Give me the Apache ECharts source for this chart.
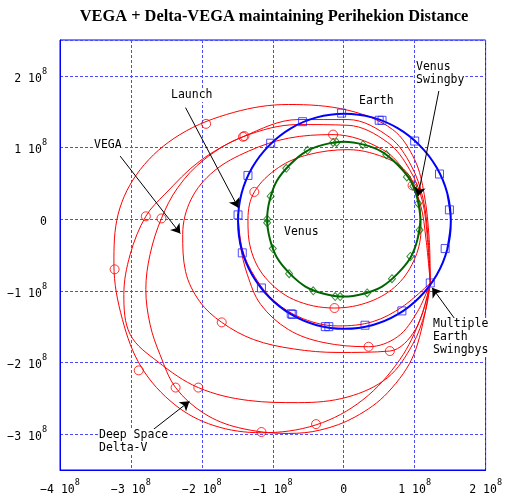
<!DOCTYPE html>
<html><head><meta charset="utf-8">
<script src="https://cdn.jsdelivr.net/npm/echarts@6/dist/echarts.min.js"></script>
<style>html,body{margin:0;padding:0;background:#fff}#c{width:505px;height:497px}</style>
</head><body><div id="c"></div>
<script>
// ---- data (units of 10^8 km) ----
const chartTitle = 'VEGA + Delta-VEGA maintaining Perihekion Distance';
const tickExponent = '8';

const earthOrbit = [[1.46,-0.42],[1.51,-0.03],[1.46,0.36],[1.31,0.72],[1.07,1.03],[0.76,1.27],[0.40,1.42],[0.01,1.47],[-0.38,1.42],[-0.74,1.27],[-1.05,1.03],[-1.29,0.72],[-1.44,0.36],[-1.49,-0.03],[-1.44,-0.42],[-1.29,-0.78],[-1.05,-1.09],[-0.74,-1.33],[-0.38,-1.48],[0.01,-1.53],[0.40,-1.48],[0.76,-1.33],[1.07,-1.09],[1.31,-0.78],[1.46,-0.42],[1.51,-0.03],[1.46,0.36]];
const venusOrbit = [[1.04,-0.28],[1.08,0],[1.04,0.28],[0.94,0.54],[0.76,0.76],[0.54,0.94],[0.28,1.04],[0,1.08],[-0.28,1.04],[-0.54,0.94],[-0.76,0.76],[-0.94,0.54],[-1.04,0.28],[-1.08,0],[-1.04,-0.28],[-0.94,-0.54],[-0.76,-0.76],[-0.54,-0.94],[-0.28,-1.04],[0,-1.08],[0.28,-1.04],[0.54,-0.94],[0.76,-0.76],[0.94,-0.54],[1.04,-0.28],[1.08,0],[1.04,0.28]];

const trajA = [[1.22,-0.89],[1.205,-0.28],[1.135,0.345],[1.00,0.83],[0.69,1.25],[0.06,1.52],[-0.78,1.60],[-1.55,1.49],[-2.31,1.18],[-2.87,0.69],[-3.18,0.07],[-3.24,-0.63],[-3.12,-1.40],[-2.85,-2.07],[-2.38,-2.59],[-1.83,-2.88],[-1.16,-2.98],[-0.39,-2.87],[0.27,-2.52],[0.79,-1.96],[1.09,-1.37],[1.22,-0.89]];
const trajB = [[1.22,-0.89],[1.19,-0.28],[1.12,0.28],[0.95,0.75],[0.65,1.14],[0.06,1.39],[-0.64,1.39],[-1.42,1.15],[-2.03,0.81],[-2.52,0.35],[-2.79,0.04],[-3.01,-0.49],[-3.10,-1.05],[-3.01,-1.61],[-2.62,-1.99],[-2.05,-2.35],[-1.34,-2.53],[-0.64,-2.56],[0.06,-2.48],[0.62,-2.21],[0.97,-1.75],[1.15,-1.29],[1.22,-0.89]];
const trajC = [[1.22,-0.89],[1.18,-0.28],[1.11,0.25],[0.93,0.69],[0.62,1.07],[0.06,1.31],[-0.64,1.32],[-1.42,1.15],[-1.97,0.83],[-2.34,0.44],[-2.57,0.01],[-2.73,-0.49],[-2.79,-0.98],[-2.73,-1.47],[-2.59,-1.89],[-2.37,-2.35],[-1.97,-2.71],[-1.48,-2.91],[-0.78,-2.99],[-0.32,-2.94],[0.16,-2.76],[0.62,-2.42],[1.00,-1.86],[1.22,-0.89]];
const trajV = [[1.22,-0.89],[1.16,-0.28],[1.08,0.21],[0.90,0.61],[0.55,0.97],[-0.15,1.18],[-0.78,1.13],[-1.34,0.95],[-1.83,0.67],[-2.15,0.28],[-2.27,-0.21],[-2.23,-0.73],[-2.03,-1.15],[-1.72,-1.44],[-1.27,-1.68],[-0.71,-1.81],[-0.08,-1.86],[0.65,-1.84],[1.01,-1.54],[1.22,-0.89]];
const trajLaunchOut = [[-1.49,0.07],[-1.46,-0.35],[-1.36,-0.77],[-1.17,-1.19],[-0.78,-1.54],[-0.29,-1.72],[0.35,-1.78],[0.76,-1.64],[1.04,-1.29],[1.22,-0.89]];
const trajLaunchIn = [[-1.49,0.07],[-1.43,-0.42],[-1.25,-0.81],[-0.97,-1.15],[-0.57,-1.39],[-0.08,-1.49],[0.41,-1.43],[0.83,-1.22],[1.22,-0.89]];
const trajInner = [[1.05,0.28],[0.93,0.60],[0.65,0.83],[0.06,0.97],[-0.50,0.90],[-0.92,0.72],[-1.26,0.38],[-1.35,0.00],[-1.31,-0.42],[-1.11,-0.81],[-0.71,-1.12],[-0.13,-1.24],[0.37,-1.15],[0.76,-0.91],[1.01,-0.53],[1.09,-0.12],[1.05,0.28],[0.93,0.60]];

const redMarkers = [[-1.94,1.33],[-1.42,1.15],[-1.40,1.16],[-2.79,0.04],[-2.57,0.01],[-3.23,-0.70],[-1.26,0.38],[-1.72,-1.44],[-2.89,-2.11],[-2.37,-2.35],[-2.05,-2.35],[-1.16,-2.97],[-0.39,-2.86],[0.65,-1.84],[0.35,-1.78],[-0.13,-1.24],[-0.15,1.18],[0.97,0.47]];
const earthMarkers = [[-0.03,1.48],[0.50,1.38],[0.54,1.38],[1.00,1.09],[1.35,0.63],[1.49,0.13],[1.43,-0.41],[1.22,-0.89],[0.82,-1.28],[0.30,-1.48],[-0.21,-1.50],[-0.26,-1.50],[-0.72,-1.33],[-0.74,-1.32],[-1.16,-0.96],[-1.43,-0.47],[-1.49,0.06],[-1.35,0.61],[-1.03,1.06],[-0.58,1.36]];
const venusMarkers = [[-0.15,1.07],[-0.10,1.07],[0.27,1.04],[0.60,0.90],[0.89,0.59],[0.98,0.46],[1.05,0.22],[1.07,-0.15],[0.94,-0.52],[0.68,-0.83],[0.33,-1.03],[-0.05,-1.08],[-0.12,-1.08],[-0.43,-1.00],[-0.77,-0.76],[-1.00,-0.41],[-1.08,-0.05],[-1.08,0.00],[-1.03,0.32],[-0.81,0.71],[-0.51,0.96]];

// annotation arrows: [from, to]
const arrows = [
  [[-2.23,1.556],[-1.486,0.159]],
  [[-3.152,0.88],[-2.304,-0.20]],
  [[1.341,1.788],[1.047,0.321]],
  [[1.573,-1.401],[1.247,-0.958]],
  [[-2.687,-2.937],[-2.175,-2.542]]
];
const notes = [
  {text:'Launch', x:170, y:89},
  {text:'VEGA', x:93, y:139},
  {text:'Earth', x:358, y:95},
  {text:'Venus', x:283, y:226},
  {text:'Venus\nSwingby', x:415, y:61},
  {text:'Multiple\nEarth\nSwingbys', x:432, y:318},
  {text:'Deep Space\nDelta-V', x:98, y:429}
];

// ---- chart ----
const el = document.getElementById('c');
const chart = echarts.init(el, null, {renderer:'canvas', width:505, height:497});
const tickFont = 'DejaVu Sans Mono';
function tickLabel(v){
  if (Math.abs(v - Math.round(v)) > 1e-9) return '';
  if (Math.round(v) === 0) return '{b|0}';
  return '{b|' + (v < 0 ? '\u2212' : '') + Math.abs(Math.round(v)) + ' 10}{s|' + tickExponent + '}';
}
const rich = {
  b:{fontFamily:tickFont, fontSize:11.5, color:'#000', lineHeight:18, verticalAlign:'bottom'},
  s:{fontFamily:tickFont, fontSize:8.5, color:'#000', lineHeight:9, verticalAlign:'top'}
};
const splitStyle = {color:'#4a4aff', type:[3,2], width:1};
function redLine(name, data){
  return {name, type:'line', data, smooth:0.35, symbol:'none', lineStyle:{color:'#ff0000', width:1}, z:2, silent:true};
}
const option = {
  animation:false,
  backgroundColor:'#fff',
  grid:{left:60, right:16, top:40, bottom:27, show:true, borderColor:'#0000ff', borderWidth:1},
  xAxis:{type:'value', min:-4, max:2, interval:1,
    axisLine:{show:true, onZero:false, lineStyle:{color:'#0000ff'}}, axisTick:{show:false},
    splitLine:{show:true, lineStyle:splitStyle},
    axisLabel:{margin:8, formatter:tickLabel, rich}},
  yAxis:{type:'value', min:-3.5, max:2.5, minInterval:1, maxInterval:1,
    axisLine:{show:true, onZero:false, lineStyle:{color:'#0000ff'}}, axisTick:{show:false},
    splitLine:{show:true, lineStyle:splitStyle},
    axisLabel:{margin:13, formatter:tickLabel, rich, showMinLabel:false, showMaxLabel:false}},
  series:[
    redLine('A', trajA), redLine('B', trajB), redLine('C', trajC), redLine('V', trajV),
    redLine('LO', trajLaunchOut), redLine('LI', trajLaunchIn), redLine('I', trajInner),
    {name:'Earth', type:'line', data:earthOrbit, smooth:0.35, symbol:'none', lineStyle:{color:'#0000ff', width:2}, z:3, silent:true},
    {name:'Venus', type:'line', data:venusOrbit, smooth:0.35, symbol:'none', lineStyle:{color:'#006400', width:2}, z:3, silent:true},
    {name:'redM', type:'scatter', data:redMarkers, symbol:'circle', symbolSize:9, itemStyle:{color:'rgba(0,0,0,0)', borderColor:'#ff0000', borderWidth:1}, z:4, silent:true},
    {name:'earthM', type:'scatter', data:earthMarkers, symbol:'rect', symbolSize:8, itemStyle:{color:'rgba(0,0,0,0)', borderColor:'#2020ff', borderWidth:1}, z:4, silent:true},
    {name:'venusM', type:'scatter', data:venusMarkers, symbol:'diamond', symbolSize:[7,8], itemStyle:{color:'rgba(0,0,0,0)', borderColor:'#007000', borderWidth:1}, z:4, silent:true},
    {name:'arrows', type:'line', data:[], z:5, silent:true,
      markLine:{silent:true, symbol:['none','arrow'], symbolSize:9, animation:false,
        lineStyle:{color:'#000', width:1, type:'solid'}, label:{show:false},
        data: arrows.map(a => [{coord:a[0]}, {coord:a[1]}])}}
  ],
  graphic: [
    {type:'text', x:274, y:17, z:10, style:{text:chartTitle, font:'bold 16.4px "Liberation Serif"', fill:'#000', align:'center', verticalAlign:'middle'}}
  ].concat(notes.map(n => ({type:'text', x:n.x, y:n.y, z:10,
    style:{text:n.text, font:'11.5px "DejaVu Sans Mono"', fill:'#000', lineHeight:13, backgroundColor:'#fff', padding:[0,1]}})))
};
chart.setOption(option);
</script></body></html>
